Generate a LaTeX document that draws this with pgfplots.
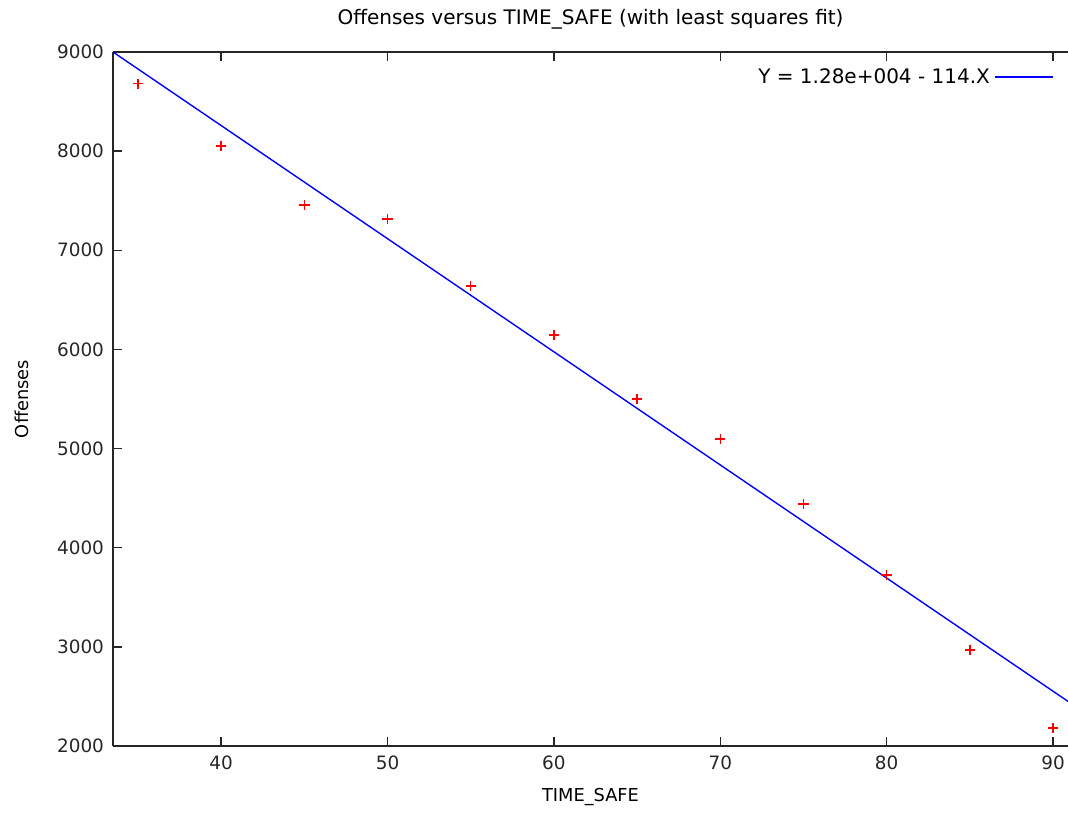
\documentclass[border=0pt]{standalone}
\usepackage{fontspec}
\setmainfont{DejaVu Sans}
\usepackage{pgfplots}
\pgfplotsset{compat=1.18}

\begin{document}
\begin{tikzpicture}
\begin{axis}[
  name=main,
  at={(0,0)}, anchor=south west,
  scale only axis,
  width=477.5pt, height=347pt,
  xmin=33.5, xmax=90.9,
  ymin=2000, ymax=9000,
  xtick={40,50,...,90},
  ytick={2000,3000,...,9000},
  axis x line*=box,
  axis y line*=left,
  axis line style={black!85, line width=0.8pt},
  tick align=inside,
  major tick length=4.5pt,
  tick style={black!85, line width=0.7pt},
  xtick pos=both,
  font=\fontsize{8.9}{10}\selectfont,
  tick label style={font=\fontsize{9.2}{10}\selectfont, text=black!85},
  /pgf/number format/assume math mode=true,
  /pgf/number format/set thousands separator={},
  xticklabel style={yshift=-1.5pt},
  yticklabel style={xshift=-1pt},
  title={Offenses versus TIME\_SAFE (with least squares fit)},
  title style={at={(axis description cs:0.5,1)}, anchor=center, yshift=10.5pt,
    font=\fontsize{10}{12}\selectfont},
  xlabel={TIME\_SAFE},
  xlabel style={at={(axis description cs:0.5,0)}, anchor=center, yshift=-25.5pt},
  ylabel={Offenses},
  ylabel style={at={(axis description cs:-0.0953,0.5)}, anchor=center},
  legend style={draw=none, fill=none, at={(rel axis cs:1,1)}, anchor=north east,
    xshift=-4pt, yshift=-4pt, font=\fontsize{10}{12}\selectfont},
  legend cell align=right,
  legend plot pos=right,
  legend image code/.code={\draw[draw=blue, line width=0.85pt] (0pt,0pt) -- (29pt,0pt);},
  clip=true,
]
\addplot[only marks, mark=+, mark size=2.6pt, draw=red,
  mark options={solid, draw=red, line width=0.75pt}, forget plot]
  coordinates {
    (35, 8680)
    (40, 8052)
    (45, 7457)
    (50, 7316)
    (55, 6640)
    (60, 6145)
    (65, 5500)
    (70, 5096)
    (75, 4441)
    (80, 3725)
    (85, 2968)
    (90, 2181)
  };
\addplot[draw=blue, line width=0.7pt, no marks]
  coordinates {
    (33.5, 9000)
    (90.9, 2450)
  };
\addlegendentry{Y = 1.28e+004 - 114.X}
\end{axis}
\pgfresetboundingbox
\path[use as bounding box] (-56.5pt,-34pt) rectangle (477.5pt,373pt);
\end{tikzpicture}
\end{document}
